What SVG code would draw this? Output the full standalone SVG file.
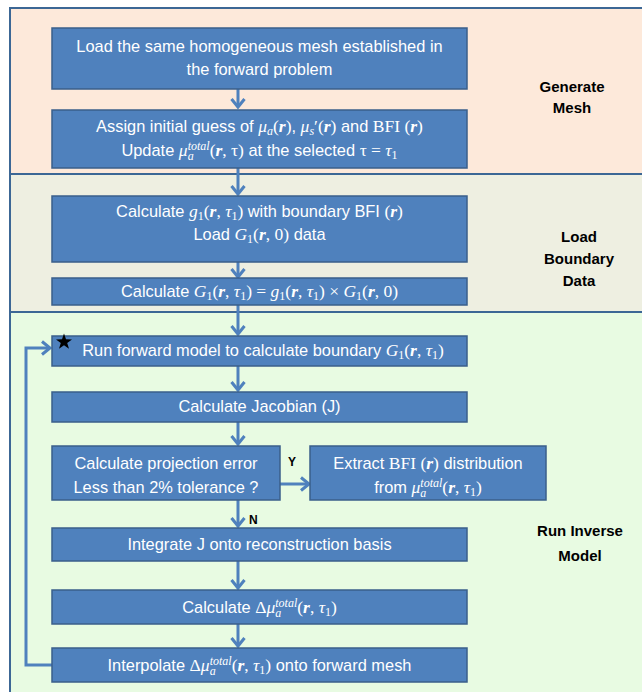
<svg xmlns="http://www.w3.org/2000/svg" width="642" height="692" viewBox="0 0 642 692">
<style>
.sec{stroke:#3C6795;stroke-width:2}
.box{fill:#4F81BD;stroke:#3A5F8B;stroke-width:1.5}
.t{font-family:"Liberation Sans",Arial,sans-serif;font-size:16.4px;fill:#fff;text-anchor:middle}
.m{font-family:"Liberation Serif","Times New Roman",serif;font-style:italic;font-size:17.5px}
.b{font-weight:bold}
.u{font-style:normal;font-family:"Liberation Serif","Times New Roman",serif;font-size:17.5px}
.s{font-size:12px}
.lab{font-family:"Liberation Sans",Arial,sans-serif;font-size:15px;font-weight:bold;fill:#000;text-anchor:middle}
.yn{font-family:"Liberation Sans",Arial,sans-serif;font-size:12px;font-weight:bold;fill:#000}
.c{fill:none;stroke:#4F81BD;stroke-width:3}
</style>
<defs>
<marker id="ah" markerUnits="userSpaceOnUse" markerWidth="16" markerHeight="16" refX="10" refY="8" orient="auto">
<path d="M2,1.5 L10,8 L2,14.5" fill="none" stroke="#4F81BD" stroke-width="3"/>
</marker>
</defs>
<g id="sections">
<rect class="sec" x="10" y="8" width="640" height="166" fill="#FDE9DA"/>
<rect class="sec" x="10" y="174" width="640" height="138" fill="#EEEFE1"/>
<rect class="sec" x="10" y="312" width="640" height="390" fill="#E8FBE2"/>
</g>
<g id="labels">
<text class="lab" x="572" y="92">Generate</text>
<text class="lab" x="572" y="113">Mesh</text>
<text class="lab" x="579" y="242">Load</text>
<text class="lab" x="579" y="264">Boundary</text>
<text class="lab" x="579" y="286">Data</text>
<text class="lab" x="580" y="536">Run Inverse</text>
<text class="lab" x="580" y="561">Model</text>
</g>
<g id="connectors">
<path class="c" d="M238,88 V107" marker-end="url(#ah)"/>
<path class="c" d="M238,168 V194" marker-end="url(#ah)"/>
<path class="c" d="M238,262 V277" marker-end="url(#ah)"/>
<path class="c" d="M238,305 V334" marker-end="url(#ah)"/>
<path class="c" d="M238,366 V390" marker-end="url(#ah)"/>
<path class="c" d="M238,422 V444" marker-end="url(#ah)"/>
<path class="c" d="M280,484 H309" marker-end="url(#ah)"/>
<path class="c" d="M238,500 V526" marker-end="url(#ah)"/>
<path class="c" d="M238,560 V588" marker-end="url(#ah)"/>
<path class="c" d="M238,624 V646" marker-end="url(#ah)"/>
<path class="c" d="M52,665 H26 V348 H50" marker-end="url(#ah)"/>
<text class="yn" x="288" y="466">Y</text>
<text class="yn" x="249" y="524">N</text>
</g>
<g id="n1">
<rect class="box" x="52" y="28" width="415" height="61"/>
<text class="t" x="259.5" y="52">Load the same homogeneous mesh established in</text>
<text class="t" x="259.5" y="75">the forward problem</text>
</g>
<g id="n2">
<rect class="box" x="52" y="110" width="415" height="58"/>
<text class="t" x="259.5" y="132">Assign initial guess of <tspan class="m">μ</tspan><tspan class="m s" dy="3">a</tspan><tspan class="u" dy="-3">(</tspan><tspan class="m b">r</tspan><tspan class="u">)</tspan>, <tspan class="m">μ</tspan><tspan class="m s" dy="3">s</tspan><tspan class="u" dy="-3">′(</tspan><tspan class="m b">r</tspan><tspan class="u">)</tspan> and <tspan class="u">BFI (</tspan><tspan class="m b">r</tspan><tspan class="u">)</tspan></text>
<text class="t" x="259.5" y="156">Update <tspan class="m">μ</tspan><tspan class="m s" dy="-6">total</tspan><tspan class="m s" dx="-22" dy="10">a</tspan><tspan class="u" dx="16" dy="-4">(</tspan><tspan class="m b">r</tspan><tspan class="u">, τ)</tspan> at the selected  <tspan class="u">τ = </tspan><tspan class="m">τ</tspan><tspan class="u s" dy="3">1</tspan></text>
</g>
<g id="n3">
<rect class="box" x="52" y="196" width="415" height="66"/>
<text class="t" x="259.5" y="217">Calculate <tspan class="m">g</tspan><tspan class="u s" dy="3">1</tspan><tspan class="u" dy="-3">(</tspan><tspan class="m b">r</tspan><tspan class="u">, </tspan><tspan class="m">τ</tspan><tspan class="u s" dy="3">1</tspan><tspan class="u" dy="-3">)</tspan> with boundary BFI <tspan class="u">(</tspan><tspan class="m b">r</tspan><tspan class="u">)</tspan></text>
<text class="t" x="259.5" y="240">Load <tspan class="m">G</tspan><tspan class="u s" dy="3">1</tspan><tspan class="u" dy="-3">(</tspan><tspan class="m b">r</tspan><tspan class="u">, 0)</tspan> data</text>
</g>
<g id="n4">
<rect class="box" x="52" y="278" width="415" height="27"/>
<text class="t" x="259.5" y="297">Calculate  <tspan class="m">G</tspan><tspan class="u s" dy="3">1</tspan><tspan class="u" dy="-3">(</tspan><tspan class="m b">r</tspan><tspan class="u">, </tspan><tspan class="m">τ</tspan><tspan class="u s" dy="3">1</tspan><tspan class="u" dy="-3">) = </tspan><tspan class="m">g</tspan><tspan class="u s" dy="3">1</tspan><tspan class="u" dy="-3">(</tspan><tspan class="m b">r</tspan><tspan class="u">, </tspan><tspan class="m">τ</tspan><tspan class="u s" dy="3">1</tspan><tspan class="u" dy="-3">) × </tspan><tspan class="m">G</tspan><tspan class="u s" dy="3">1</tspan><tspan class="u" dy="-3">(</tspan><tspan class="m b">r</tspan><tspan class="u">, 0)</tspan></text>
</g>
<g id="n5">
<rect class="box" x="52" y="336" width="415" height="30"/>
<text class="t" x="263" y="356">Run forward model to calculate boundary  <tspan class="m">G</tspan><tspan class="u s" dy="3">1</tspan><tspan class="u" dy="-3">(</tspan><tspan class="m b">r</tspan><tspan class="u">, </tspan><tspan class="m">τ</tspan><tspan class="u s" dy="3">1</tspan><tspan class="u" dy="-3">)</tspan></text>
<polygon points="64,333.5 66,339.2 72,339.4 67.2,343 69,348.8 64,345.3 59,348.8 60.8,343 56,339.4 62,339.2" fill="#000"/>
</g>
<g id="n6">
<rect class="box" x="52" y="392" width="415" height="30"/>
<text class="t" x="259.5" y="412">Calculate Jacobian (J)</text>
</g>
<g id="n7">
<rect class="box" x="52" y="446" width="228" height="54"/>
<text class="t" x="166" y="469">Calculate projection error</text>
<text class="t" x="166" y="493">Less than 2% tolerance ?</text>
</g>
<g id="n8">
<rect class="box" x="310" y="446" width="236" height="54"/>
<text class="t" x="428" y="469">Extract <tspan class="u">BFI (</tspan><tspan class="m b">r</tspan><tspan class="u">)</tspan> distribution</text>
<text class="t" x="428" y="493">from <tspan class="m">μ</tspan><tspan class="m s" dy="-6">total</tspan><tspan class="m s" dx="-22" dy="10">a</tspan><tspan class="u" dx="16" dy="-4">(</tspan><tspan class="m b">r</tspan><tspan class="u">, </tspan><tspan class="m">τ</tspan><tspan class="u s" dy="3">1</tspan><tspan class="u" dy="-3">)</tspan></text>
</g>
<g id="n9">
<rect class="box" x="52" y="528" width="415" height="33"/>
<text class="t" x="259.5" y="550">Integrate J onto reconstruction basis</text>
</g>
<g id="n10">
<rect class="box" x="52" y="590" width="415" height="34"/>
<text class="t" x="259.5" y="613">Calculate <tspan class="u">Δ</tspan><tspan class="m">μ</tspan><tspan class="m s" dy="-6">total</tspan><tspan class="m s" dx="-22" dy="10">a</tspan><tspan class="u" dx="16" dy="-4">(</tspan><tspan class="m b">r</tspan><tspan class="u">, </tspan><tspan class="m">τ</tspan><tspan class="u s" dy="3">1</tspan><tspan class="u" dy="-3">)</tspan></text>
</g>
<g id="n11">
<rect class="box" x="52" y="648" width="415" height="34"/>
<text class="t" x="259.5" y="671">Interpolate <tspan class="u">Δ</tspan><tspan class="m">μ</tspan><tspan class="m s" dy="-6">total</tspan><tspan class="m s" dx="-22" dy="10">a</tspan><tspan class="u" dx="16" dy="-4">(</tspan><tspan class="m b">r</tspan><tspan class="u">, </tspan><tspan class="m">τ</tspan><tspan class="u s" dy="3">1</tspan><tspan class="u" dy="-3">)</tspan> onto forward mesh</text>
</g>
</svg>
